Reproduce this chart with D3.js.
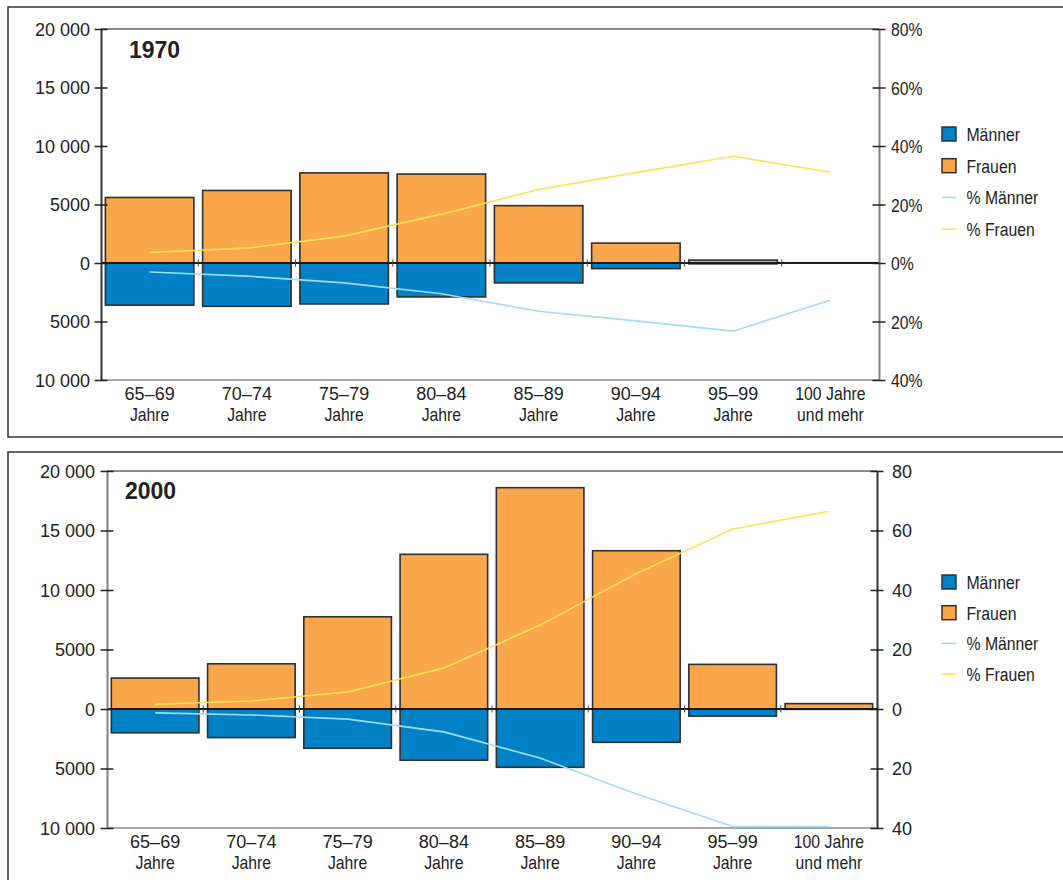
<!DOCTYPE html>
<html lang="de">
<head>
<meta charset="utf-8">
<script src="https://cdn.jsdelivr.net/npm/d3@7"></script>
<style>
  html, body { margin: 0; padding: 0; background: #fff; }
  svg { display: block; }
</style>
</head>
<body>
<svg id="chart" width="1063" height="880"></svg>
<script>
// Altersgruppen (zweizeilige Beschriftung)
const ageGroups = ["65–69", "70–74", "75–79", "80–84", "85–89", "90–94", "95–99", "100+"];
const ageLabels = [
  ["65–69", "Jahre"], ["70–74", "Jahre"], ["75–79", "Jahre"], ["80–84", "Jahre"],
  ["85–89", "Jahre"], ["90–94", "Jahre"], ["95–99", "Jahre"], ["100 Jahre", "und mehr"]
];

// 1970 – Anzahl Personen
const maenner1970 = [3600, 3700, 3500, 2900, 1700, 480, 70, 10];
const frauen1970  = [5600, 6200, 7700, 7600, 4900, 1700, 250, 20];
// 1970 – Anteile in %
const pctMaenner1970 = [3.1, 4.5, 6.8, 10.5, 16.5, 19.8, 23.3, 12.7];
const pctFrauen1970  = [3.6, 5.1, 9.2, 16.7, 25.1, 30.9, 36.5, 31.0];

// 2000 – Anzahl Personen
const maenner2000 = [2000, 2400, 3300, 4300, 4900, 2800, 600, 30];
const frauen2000  = [2600, 3800, 7750, 13000, 18600, 13300, 3750, 450];
// 2000 – Anteile in %
const pctMaenner2000 = [1.3, 2.0, 3.4, 7.7, 16.5, 28.6, 39.5, 39.5];
const pctFrauen2000  = [1.6, 2.7, 5.7, 13.8, 28.2, 45.5, 60.5, 66.5];

// Achsenbeschriftungen
const countTicks = [20000, 15000, 10000, 5000, 0, -5000, -10000];
const pctTicks = [80, 60, 40, 20, 0, -20, -40];
const legendItems = ["Männer", "Frauen", "% Männer", "% Frauen"];

const COLORS = {
  men: "#0081C6",
  women: "#F9A74A",
  menLine: "#A3DBF3",
  womenLine: "#FCE255",
  barStroke: "#2f2f2f",
  ink: "#222"
};

const FONT = "'Liberation Sans', Arial, sans-serif";
// Wörter werden schmal gesetzt (horizontal gestaucht), Ziffern normal breit
const isWord = t => /[A-Za-zÄÖÜäöü%]/.test(t);
const NARROW_SCALE = 0.83;

const fmtCount = v => {
  const a = Math.abs(v);
  return a >= 10000 ? d3.format(",")(a).replace(/,/g, " ") : String(a);
};

const svg = d3.select("#chart");

// Text mit optionaler Stauchung an seinem Ankerpunkt
function addText(parent, x, y, t, anchor) {
  const word = isWord(t);
  return parent.append("text")
    .attr("transform", `translate(${x},${y})` + (word ? ` scale(${NARROW_SCALE},1)` : ""))
    .attr("text-anchor", anchor || "start")
    .attr("font-family", FONT)
    .attr("font-size", word ? "19px" : "18px")
    .attr("fill", COLORS.ink)
    .text(t);
}

function styleAxis(sel, color, side, gap) {
  sel.select(".domain").attr("stroke", color).attr("stroke-width", 2);
  sel.selectAll(".tick line")
    .attr("stroke", "#222").attr("stroke-width", 1.5)
    .attr("x1", -6.5).attr("x2", 6.5);
  sel.selectAll(".tick text").each(function () {
    const t = d3.select(this);
    const word = isWord(t.text());
    t.attr("x", null).attr("dy", "0.36em")
      .attr("font-family", FONT)
      .attr("font-size", word ? "19px" : "18px")
      .attr("fill", COLORS.ink)
      .attr("transform", `translate(${side * gap},0)` + (word ? ` scale(${NARROW_SCALE},1)` : ""));
  });
}

function drawPanel(cfg) {
  const g = svg.append("g");

  // Rahmen des Feldes
  g.append("rect")
    .attr("x", cfg.frame[0]).attr("y", cfg.frame[1])
    .attr("width", cfg.frame[2]).attr("height", cfg.frame[3])
    .attr("fill", "none").attr("stroke", "#333").attr("stroke-width", 1.5);

  const x = d3.scaleBand()
    .domain(ageGroups)
    .range([cfg.left, cfg.right])
    .paddingInner(0.09)
    .paddingOuter(0.045);
  const y = d3.scaleLinear().domain([-10000, 20000]).range([cfg.bottom, cfg.top]);
  const yp = d3.scaleLinear().domain([-40, 80]).range([cfg.bottom, cfg.top]);

  // obere und untere Begrenzung des Diagramms
  g.append("line")
    .attr("x1", cfg.left).attr("x2", cfg.right)
    .attr("y1", cfg.top).attr("y2", cfg.top)
    .attr("stroke", "#8a8a8a").attr("stroke-width", 2);
  g.append("line")
    .attr("x1", cfg.left).attr("x2", cfg.right)
    .attr("y1", cfg.bottom).attr("y2", cfg.bottom)
    .attr("stroke", "#8a8a8a").attr("stroke-width", 1.5);

  // Balken Frauen (nach oben)
  g.append("g").selectAll("rect")
    .data(cfg.frauen)
    .join("rect")
    .attr("x", (d, i) => x(ageGroups[i]))
    .attr("width", x.bandwidth())
    .attr("y", d => y(d))
    .attr("height", d => y(0) - y(d))
    .attr("fill", COLORS.women)
    .attr("stroke", COLORS.barStroke).attr("stroke-width", 1.6);

  // Balken Männer (nach unten)
  g.append("g").selectAll("rect")
    .data(cfg.maenner)
    .join("rect")
    .attr("x", (d, i) => x(ageGroups[i]))
    .attr("width", x.bandwidth())
    .attr("y", y(0))
    .attr("height", d => y(-d) - y(0))
    .attr("fill", COLORS.men)
    .attr("stroke", COLORS.barStroke).attr("stroke-width", 1.6);

  // Nulllinie mit Trennstrichen zwischen den Gruppen
  g.append("line")
    .attr("x1", cfg.left).attr("x2", cfg.right)
    .attr("y1", y(0)).attr("y2", y(0))
    .attr("stroke", "#1a1a1a").attr("stroke-width", 2);
  const gap = x.step() * x.paddingInner() / 2;
  g.append("g").selectAll("line")
    .data(ageGroups.slice(1))
    .join("line")
    .attr("x1", d => x(d) - gap).attr("x2", d => x(d) - gap)
    .attr("y1", y(0) - 3.5).attr("y2", y(0) + 3.5)
    .attr("stroke", "#444").attr("stroke-width", 1);

  // Anteilslinien (Männer unterhalb der Nulllinie)
  const cx = i => x(ageGroups[i]) + x.bandwidth() / 2;
  const line = d3.line().x((d, i) => cx(i)).y(d => yp(d));
  g.append("path")
    .datum(cfg.pctMaenner.map(v => -v))
    .attr("d", line)
    .attr("fill", "none").attr("stroke", COLORS.menLine).attr("stroke-width", 1.6);
  g.append("path")
    .datum(cfg.pctFrauen)
    .attr("d", line)
    .attr("fill", "none").attr("stroke", COLORS.womenLine).attr("stroke-width", 1.6);

  // linke Achse (Anzahl)
  const leftAxis = g.append("g").attr("transform", `translate(${cfg.left},0)`)
    .call(d3.axisLeft(y).tickValues(countTicks).tickFormat(fmtCount).tickSizeOuter(0));
  styleAxis(leftAxis, cfg.leftAxisColor, -1, cfg.leftLabelGap);

  // rechte Achse (Anteile)
  const rightAxis = g.append("g").attr("transform", `translate(${cfg.right},0)`)
    .call(d3.axisRight(yp).tickValues(pctTicks)
      .tickFormat(v => Math.abs(v) + cfg.pctSuffix).tickSizeOuter(0));
  styleAxis(rightAxis, cfg.rightAxisColor, 1, cfg.rightLabelGap);

  // Kategorienbeschriftung
  const cat = g.append("g");
  ageLabels.forEach((lines, i) => {
    lines.forEach((t, k) => addText(cat, cx(i), cfg.bottom + 19.5 + k * 21, t, "middle"));
  });

  // Jahreszahl
  g.append("text")
    .attr("x", cfg.titleX).attr("y", cfg.titleY)
    .attr("font-family", FONT).attr("font-weight", "bold").attr("font-size", "23px")
    .attr("fill", COLORS.ink)
    .text(cfg.title);

  // Legende
  const lg = g.append("g").attr("transform", `translate(942,${cfg.legendY})`);
  legendItems.forEach((t, i) => {
    const yy = i * cfg.legendStep;
    if (i < 2) {
      lg.append("rect")
        .attr("x", 0).attr("y", yy - 7).attr("width", 14).attr("height", 14)
        .attr("fill", i === 0 ? COLORS.men : COLORS.women)
        .attr("stroke", COLORS.barStroke).attr("stroke-width", 1.5);
    } else {
      lg.append("line")
        .attr("x1", 0).attr("x2", 14).attr("y1", yy).attr("y2", yy)
        .attr("stroke", i === 2 ? COLORS.menLine : COLORS.womenLine).attr("stroke-width", 1.6);
    }
    addText(lg, 24.5, yy + 7, t, "start");
  });
}

drawPanel({
  title: "1970",
  frame: [8, 7, 1100, 430],
  left: 101, right: 879, top: 29, bottom: 380,
  titleX: 129, titleY: 58,
  leftLabelGap: 11, rightLabelGap: 12,
  leftAxisColor: "#333", rightAxisColor: "#808080",
  pctSuffix: "%",
  legendY: 134, legendStep: 31.7,
  maenner: maenner1970, frauen: frauen1970,
  pctMaenner: pctMaenner1970, pctFrauen: pctFrauen1970
});

drawPanel({
  title: "2000",
  frame: [8, 452, 1100, 500],
  left: 107, right: 877, top: 471, bottom: 828,
  titleX: 125, titleY: 499,
  leftLabelGap: 12, rightLabelGap: 15,
  leftAxisColor: "#808080", rightAxisColor: "#333",
  pctSuffix: "",
  legendY: 582, legendStep: 30.7,
  maenner: maenner2000, frauen: frauen2000,
  pctMaenner: pctMaenner2000, pctFrauen: pctFrauen2000
});
</script>
</body>
</html>
